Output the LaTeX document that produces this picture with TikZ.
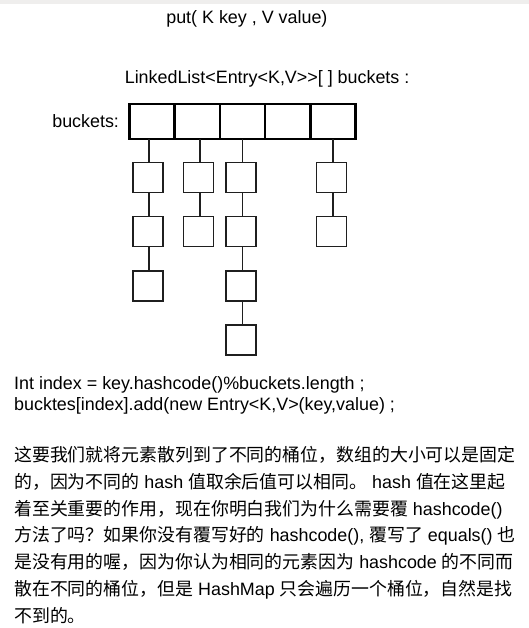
\documentclass[tikz,border=0pt]{standalone}
\usepackage{fontspec}
\setmainfont{Liberation Sans}[Ligatures=TeXOff]
\newfontfamily\cjk{Noto Sans CJK SC}
\newcommand{\zh}[1]{{\cjk #1}}
\definecolor{bandgray}{HTML}{EFEEED}
\begin{document}
\begin{tikzpicture}[x=1pt,y=-1pt,
  txt/.style={anchor=base west, inner sep=0pt, outer sep=0pt, font=\fontsize{17.9}{20}\selectfont, text=black},
  cell/.style={draw=black, line width=2.6pt, minimum width=45.2pt, minimum height=35pt, inner sep=0pt, outer sep=0pt},
  item/.style={draw=black!88, line width=1.6pt, minimum width=30pt, minimum height=30pt, inner sep=0pt, outer sep=0pt},
  stem/.style={draw=black!88, line width=1.5pt}]
\useasboundingbox (0,0) rectangle (529,628);
\fill[bandgray] (0,0) rectangle (529,4.5);

% titles
\node[txt] (title) at (166.3,24) {put( K key , V value)};
\node[txt] (decl) at (124.8,84) {LinkedList<Entry<K,V>{}>[ ] buckets :};
\node[txt] (lbl) at (52.3,127.5) {buckets:};

% bucket array
\foreach \i/\x in {1/152.1,2/197.3,3/242.5,4/287.7,5/332.9}
  \node[cell] (c\i) at (\x,121.5) {};

% entries: column 1 (bucket 1)
\node[item] (a1) at (147.7,177.5) {};
\node[item] (a2) at (147.7,231.6) {};
\node[item] (a3) at (147.7,285.7) {};
% column 2 (bucket 2)
\node[item] (b1) at (198.3,177.5) {};
\node[item] (b2) at (198.3,231.6) {};
% column 3 (bucket 3)
\node[item] (d1) at (240.9,177.5) {};
\node[item] (d2) at (240.9,231.6) {};
\node[item] (d3) at (240.9,285.7) {};
\node[item] (d4) at (240.9,339.7) {};
% column 4 (bucket 5)
\node[item] (e1) at (331.5,177.5) {};
\node[item] (e2) at (331.5,231.6) {};

% stems from array
\draw[stem] ([xshift=1.5pt]a1.north) -- ([xshift=1.5pt]a1.north |- c1.south);
\draw[stem] ([xshift=1.5pt]b1.north) -- ([xshift=1.5pt]b1.north |- c2.south);
\draw[stem] ([xshift=1.5pt]d1.north) -- ([xshift=1.5pt]d1.north |- c3.south);
\draw[stem] ([xshift=1.5pt]e1.north) -- ([xshift=1.5pt]e1.north |- c5.south);
% links within lists
\draw[stem] ([xshift=1.5pt]a1.south) -- ([xshift=1.5pt]a2.north);
\draw[stem] ([xshift=1.5pt]a2.south) -- ([xshift=1.5pt]a3.north);
\draw[stem] ([xshift=1.5pt]b1.south) -- ([xshift=1.5pt]b2.north);
\draw[stem] ([xshift=1.5pt]d1.south) -- ([xshift=1.5pt]d2.north);
\draw[stem] ([xshift=1.5pt]d2.south) -- ([xshift=1.5pt]d3.north);
\draw[stem] ([xshift=1.5pt]d3.south) -- ([xshift=1.5pt]d4.north);
\draw[stem] ([xshift=1.5pt]e1.south) -- ([xshift=1.5pt]e2.north);

% code
\node[txt] (code1) at (14.2,389.7) {Int index = key.hashcode()\%buckets.length ;};
\node[txt] (code2) at (14.2,410) {bucktes[index].add(new Entry<K,V>(key,value) ;};

% paragraph
\node[txt] (p1) at (14.2,461.3) {\zh{这要我们就将元素散列到了不同的桶位，数组的大小可以是固定}};
\node[txt] (p2) at (14.2,488.2) {\zh{的，因为不同的} hash \zh{值取余后值可以相同。} hash \zh{值在这里起}};
\node[txt] (p3) at (14.2,515.0) {\zh{着至关重要的作用，现在你明白我们为什么需要覆} hashcode()};
\node[txt] (p4) at (14.2,541.9) {\zh{方法了吗？如果你没有覆写好的} hashcode(), \zh{覆写了} equals() \zh{也}};
\node[txt] (p5) at (14.2,568.8) {\zh{是没有用的喔，因为你认为相同的元素因为} hashcode \zh{的不同而}};
\node[txt] (p6) at (14.2,595.6) {\zh{散在不同的桶位，但是} HashMap \zh{只会遍历一个桶位，自然是找}};
\node[txt] (p7) at (14.2,622.5) {\zh{不到的。}};
\end{tikzpicture}
\end{document}
